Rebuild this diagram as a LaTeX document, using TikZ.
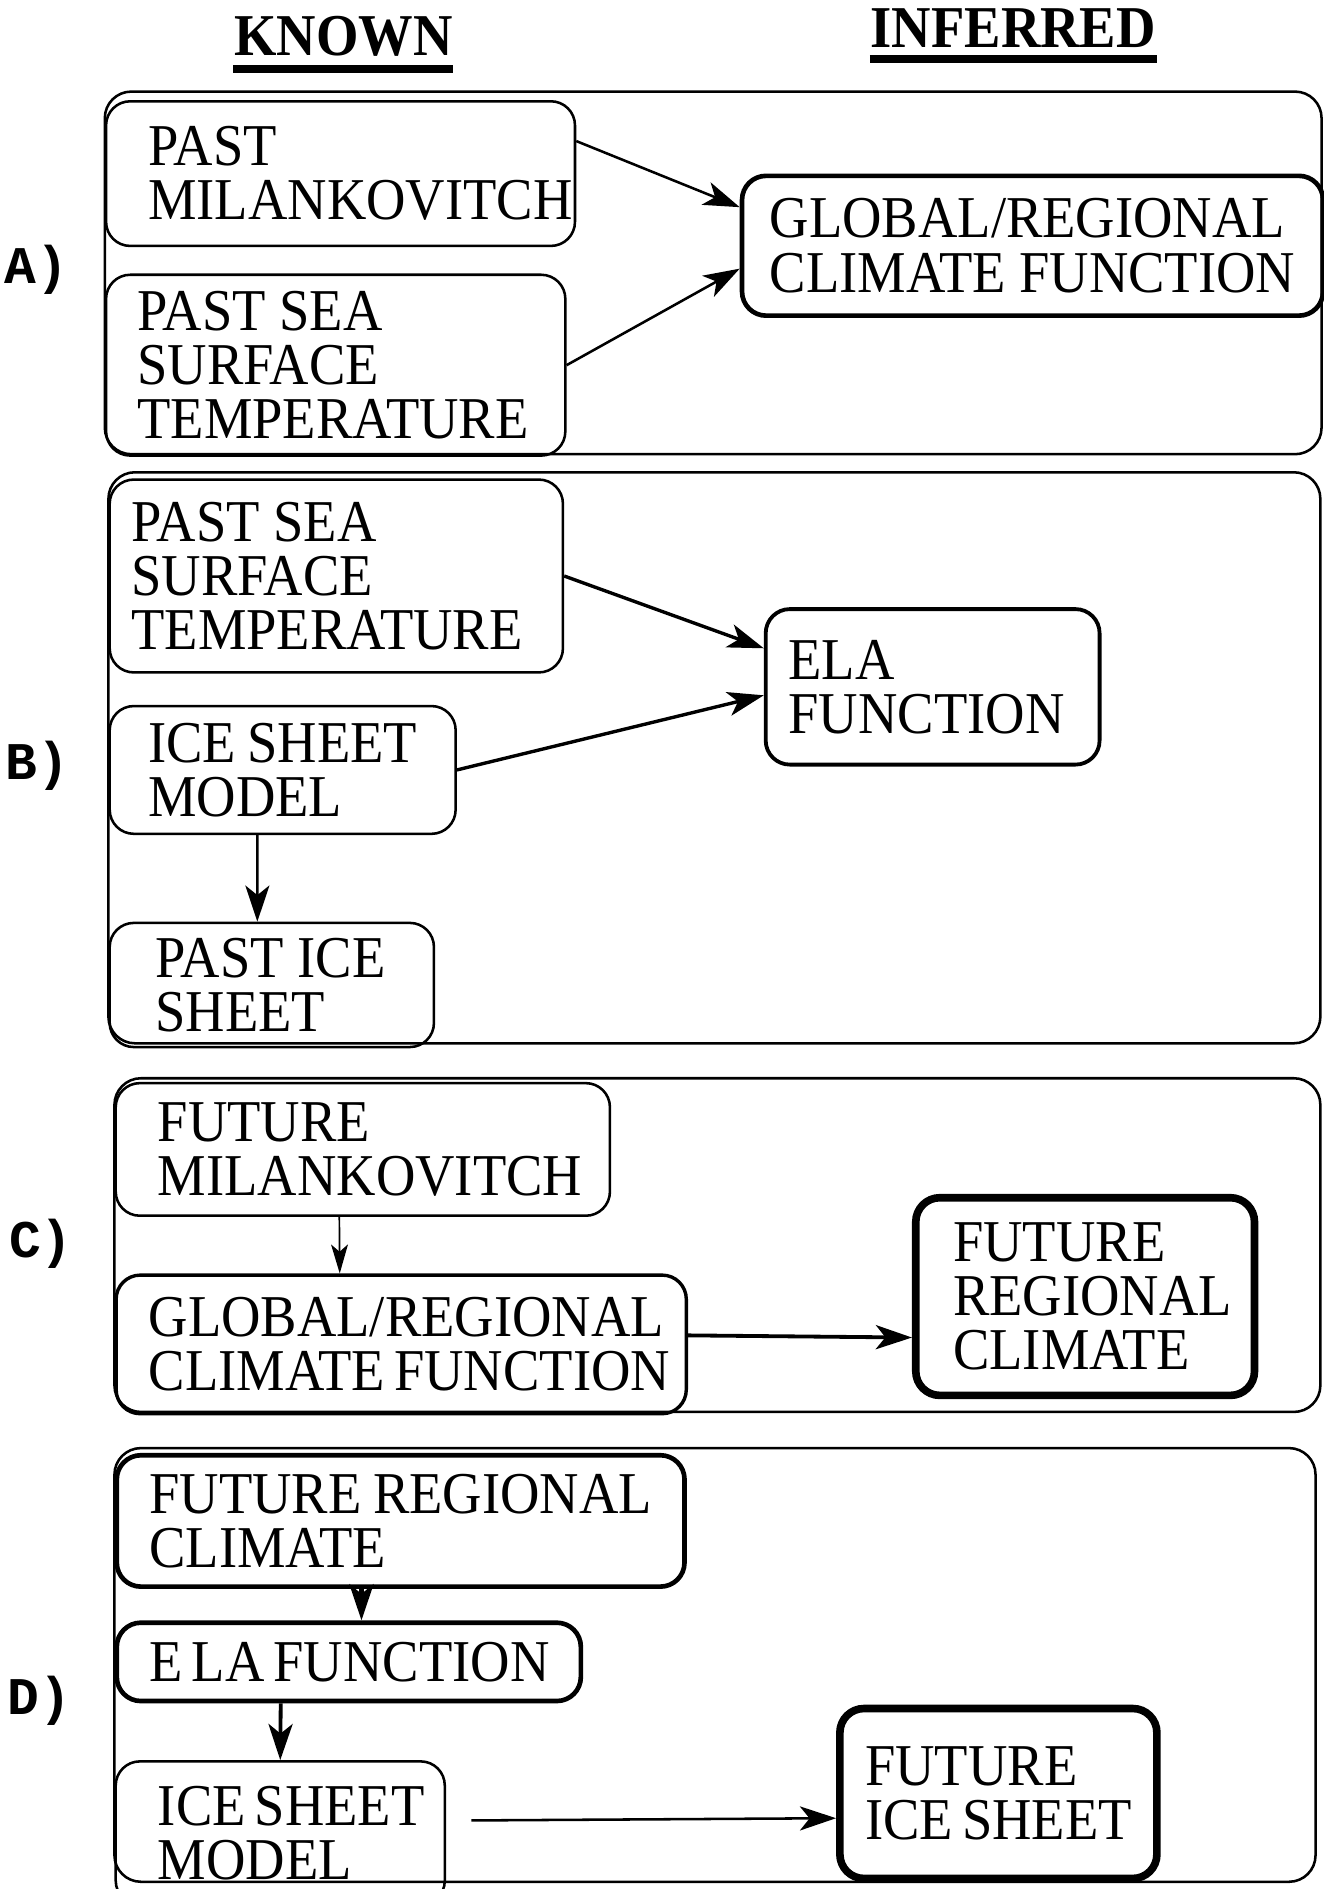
\documentclass[tikz,border=0pt]{standalone}
\usepackage{fontspec}
\setmainfont{Liberation Serif}[FakeStretch=0.92]
\newfontfamily\labelfont{Liberation Mono}
\usetikzlibrary{arrows.meta}
\uchyph=0
\newcommand{\fact}[8][]{\pgfmathsetmacro{\factw}{(#5-#3)/100}\pgfmathsetmacro{\facth}{(#6-#4)/100}%
  \pgfmathsetmacro{\facttw}{(#5-#3-2*#7)/100}\pgfmathsetmacro{\factpad}{#7/100}%
  \node[fact,#1,minimum width=\factw cm,minimum height=\facth cm,text width=\facttw cm,inner xsep=\factpad cm] (#2) at (#3,#4) {#8};}
\newcommand{\flow}[3][]{\draw[flow,#1] (#2) -- (#3);}

\begin{document}
\begin{tikzpicture}[x=0.01cm,y=-0.01cm,
  fact/.style={draw,rounded corners=0.2cm,anchor=north west,align=flush left,inner ysep=0pt,line width=0.6pt,font=\fontsize{14}{12.8}\selectfont},
  panel/.style={draw,rounded corners=0.22cm,line width=0.6pt},
  flow/.style={->,>={Stealth[length=0.3cm,width=0.2cm,inset=0.08cm]},line width=0.6pt},
  partlabel/.style={anchor=base,inner sep=0pt,font=\labelfont\bfseries\fontsize{12.5}{12.5}\selectfont},
  head/.style={anchor=base,inner sep=0pt,font=\bfseries\fontsize{14}{14}\selectfont},
  headline/.style={line width=1.85pt}]
    \useasboundingbox (0,0) rectangle (1099,1568);
    % column titles
    \node[head] (known) at (285,46) {KNOWN};
    \node[head] (inferred) at (841,39) {INFERRED};
    \draw[headline] ([yshift=-0.11cm]known.base west) -- ([yshift=-0.11cm]known.base east);
    \draw[headline] ([yshift=-0.1cm]inferred.base west) -- ([yshift=-0.1cm]inferred.base east);
    % A)
    \draw[panel] (87,76) rectangle (1097,377);
    \node[partlabel] (lA) at (30,235) {A)};
    \fact{a1}{87}{83}{476}{203}{35}{PAST\\MILANKOVITCH}
    \fact{a2}{87}{227}{468}{377}{26}{PAST~SEA\\SURFACE\\TEMPERATURE}
    \fact[line width=1.1pt]{a3}{614}{144}{1096}{260}{23}{GLOBAL/REGIONAL\\CLIMATE~FUNCTION}
    \flow{[yshift=0.27cm]a1.east}{[yshift=0.32cm]a3.west}
    \flow{a2.east}{[yshift=-0.19cm]a3.west}
    % B)
    \draw[panel] (90,392) rectangle (1096,866);
    \node[partlabel] (lB) at (31,647) {B)};
    \fact{b1}{90}{397}{466}{557}{18}{PAST~SEA\\SURFACE\\TEMPERATURE}
    \fact{b2}{90}{585}{377}{691}{32}{ICE~SHEET\\MODEL}
    \fact{b3}{90}{765}{359}{868}{38}{PAST~ICE\\SHEET}
    \fact[line width=0.9pt]{b4}{634}{504}{911}{633}{19}{ELA\\FUNCTION}
    \flow[line width=0.8pt]{b1.east}{[yshift=0.32cm]b4.west}
    \flow[line width=0.8pt]{b2.east}{[yshift=-0.07cm]b4.west}
    \flow{[xshift=-0.21cm]b2.south}{[xshift=-0.12cm]b3.north}
    % C)
    \draw[panel] (95,895) rectangle (1096,1172);
    \node[partlabel] (lC) at (34,1044) {C)};
    \fact{c1}{95}{898}{505}{1008}{35}{FUTURE\\MILANKOVITCH}
    \fact[line width=0.8pt]{c2}{95}{1057}{568}{1172}{27}{GLOBAL/REGIONAL\\CLIMATE~FUNCTION}
    \fact[line width=1.8pt]{c3}{757}{991}{1038}{1155}{31}{FUTURE\\REGIONAL\\CLIMATE}
    \flow[line width=0.4pt,>={Stealth[length=0.24cm,width=0.14cm,inset=0.06cm]}]{[xshift=-0.195cm]c1.south}{[xshift=-0.51cm]c2.north}
    \flow[line width=0.9pt]{[yshift=0.075cm]c2.east}{[yshift=-0.34cm]c3.west}
    % D)
    \draw[panel] (95,1202) rectangle (1092,1562);
    \node[partlabel] (lD) at (33,1423) {D)};
    \fact[line width=1.1pt]{d1}{95}{1206}{566}{1315}{27}{FUTURE~REGIONAL\\CLIMATE}
    \fact[line width=1.1pt]{d2}{95}{1345}{480}{1410}{27}{E~LA~FUNCTION}
    \fact{d3}{95}{1461}{368}{1580}{35}{ICE~SHEET\\MODEL}
    \fact[line width=1.8pt]{d4}{694}{1415}{957}{1556}{21}{FUTURE\\ICE~SHEET}
    \flow[line width=1.1pt]{[xshift=-0.325cm]d1.south}{[xshift=0.105cm]d2.north}
    \flow[line width=0.9pt]{[xshift=-0.565cm]d2.south}{d3.north}
    \flow{[xshift=0.21cm,yshift=0.105cm]d3.east}{[yshift=-0.205cm]d4.west}
\end{tikzpicture}
\end{document}
